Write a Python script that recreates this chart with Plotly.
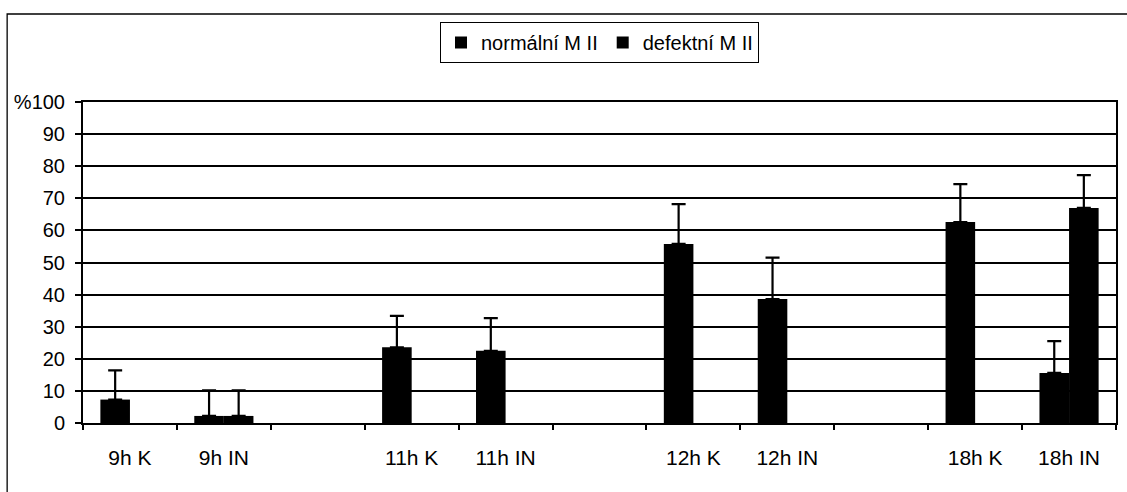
import plotly.graph_objects as go

categories = ["9h K", "9h IN", " ", "11h K", "11h IN", "  ", "12h K", "12h IN", "   ", "18h K", "18h IN"]
normal_vals = [7.3, 2.2, None, 23.6, 22.5, None, 55.8, 38.6, None, 62.6, 15.6]
normal_err = [9.1, 8.0, None, 9.8, 10.2, None, 12.4, 12.9, None, 11.8, 9.9]
defect_vals = [0, 2.2, None, 0, 0, None, 0, 0, None, 0, 67.0]
defect_err = [None, 8.0, None, None, None, None, None, None, None, None, 10.2]

y_ticks = [0, 10, 20, 30, 40, 50, 60, 70, 80, 90, 100]
y_ticktext = ["0", "10", "20", "30", "40", "50", "60", "70", "80", "90", "%100"]

W, H = 1127, 492
ML, MR, MT, MB = 83, 9, 102, 69
PW = W - ML - MR
PH = H - MT - MB

FONT = "Liberation Sans, Arial, sans-serif"


def minus_of(errs):
    return [None if e is None else 0 for e in errs]


def shown(vals):
    # a zero-height bar draws nothing; keep it out of the drawing
    return [None if v == 0 else v for v in vals]


fig = go.Figure()
fig.add_trace(go.Bar(
    name="normální M II", x=categories, y=shown(normal_vals),
    marker=dict(color="black", line=dict(width=0)),
    error_y=dict(type="data", array=normal_err, arrayminus=minus_of(normal_err),
                 symmetric=False, color="black", thickness=2.2, width=7),
))
fig.add_trace(go.Bar(
    name="defektní M II", x=categories, y=shown(defect_vals),
    marker=dict(color="black", line=dict(width=0)),
    error_y=dict(type="data", array=defect_err, arrayminus=minus_of(defect_err),
                 symmetric=False, color="black", thickness=2.2, width=7),
))

# outer chart frame (left and top edges visible)
fx0 = (7 - ML) / PW
fy1 = (H - MB - 14) / PH
fig.add_shape(type="rect", xref="paper", yref="paper",
              x0=fx0, x1=1.2, y0=-0.5, y1=fy1,
              line=dict(color="black", width=1.3), layer="below")

fig.update_layout(
    width=W, height=H,
    margin=dict(l=ML, r=MR, t=MT, b=MB),
    paper_bgcolor="white", plot_bgcolor="white",
    barmode="group", bargap=0.37, bargroupgap=0,
    font=dict(family=FONT, color="black"),
    showlegend=True,
    legend=dict(orientation="h", x=0.5, xanchor="center", y=1 + (MT - 22) / PH,
                yanchor="top", bordercolor="black", borderwidth=1,
                bgcolor="white", font=dict(size=20, family=FONT, color="black"),
                itemwidth=30, traceorder="normal"),
    xaxis=dict(type="category", categoryorder="array", categoryarray=categories,
               tickson="boundaries", ticks="outside", ticklen=5, tickwidth=1.5,
               tickcolor="black", showline=True, linecolor="black", linewidth=2,
               mirror=True, showgrid=False, ticklabelstandoff=15,
               tickfont=dict(size=21, family=FONT, color="black")),
    yaxis=dict(range=[0, 100], tickvals=y_ticks, ticktext=y_ticktext,
               ticks="outside", ticklen=6, tickwidth=1.5, tickcolor="black",
               showline=True, linecolor="black", linewidth=2, mirror=True,
               showgrid=True, gridcolor="black", gridwidth=1.8,
               zeroline=False, ticklabelstandoff=6,
               tickfont=dict(size=20, family=FONT, color="black")),
)

fig.write_html("out.html")
